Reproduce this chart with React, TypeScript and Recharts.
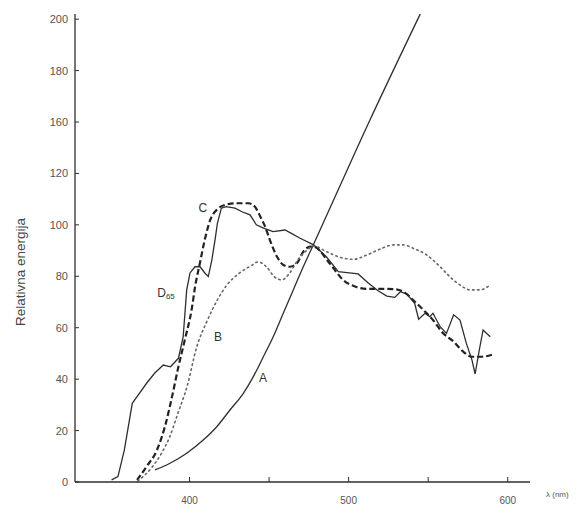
import { LineChart, Line, XAxis, YAxis, ReferenceDot } from "recharts";

// Wavelength (nm) vs relative energy.
const curveA: [number, number][] = [
  [378.3, 4.7], [387.7, 7.3], [398.2, 11.2], [408.6, 16.3], [417.1, 21.5], [425.4, 28],
  [433.8, 34.5], [440.1, 41], [446.4, 48.7], [452.6, 56.5], [458.9, 65.6], [465.2, 74.7],
  [471.5, 83.7], [477.8, 92.2], [513.4, 140.8], [545, 182],
];

const curveD65: [number, number][] = [
  [351, 0.8], [355, 2.1], [359, 12.4], [364, 30.6], [367, 33.2], [373, 38.4],
  [378, 42.3], [383.5, 45.5], [388, 44.8], [393, 48.1], [396, 56.5], [398.2, 74.7],
  [400.3, 81.3], [403.4, 83.7], [406.6, 83.7], [409.7, 81.2], [411.8, 79.9], [414, 86.3],
  [416, 94.1], [417.5, 100.6], [420, 106.5], [423, 107.1], [428.5, 106.5], [433, 105.1],
  [438, 103.9], [442, 100], [446.5, 98.7], [452.5, 97.4], [460, 98], [464, 96.7],
  [469.5, 94.8], [478, 92.2], [486, 87.6], [493.5, 81.8], [499, 81.4], [506, 80.9],
  [512.5, 77.3], [518.5, 74.4], [524, 72.3], [529, 71.8], [532.5, 74], [536.5, 73.1],
  [541.5, 69.5], [544, 63.3], [548, 65.6], [551, 64.3], [553, 65.6], [557.5, 60.4],
  [561.5, 57.8], [566, 65], [570, 63], [574, 53.9], [577.5, 47.5], [579.5, 42],
  [582.5, 52.6], [584.5, 59.1], [589, 56.5],
];

const curveC: [number, number][] = [
  [367, 0.8], [373, 6], [379.5, 12.4], [384.5, 21.5], [389, 33.2], [393, 44.8],
  [397, 55.2], [401.5, 67.7], [403.5, 76], [406.5, 85.1], [409.5, 94], [413, 101.9],
  [417, 105.8], [422, 107.7], [429.5, 108.4], [437, 108.4], [441, 107.1], [444.5, 103.2],
  [447.5, 99.3], [450.5, 94.1], [455, 87.6], [459, 84.4], [463, 83.7], [467.5, 85.1],
  [471.5, 89.6], [476, 91.5], [478, 91.5], [488, 85.1], [496.5, 78.6], [504, 76],
  [511.5, 75.1], [519.5, 75.1], [528, 75], [534.5, 74], [540.5, 70.8], [547, 66.9],
  [553, 63], [559.5, 57.8], [566, 54.6], [572, 50.7], [577.5, 48.7], [583.5, 48.7],
  [591, 49.7],
];

const curveB: [number, number][] = [
  [367.5, 0.4], [376.5, 5.8], [382.5, 11.3], [387.5, 17.5], [392.5, 26.4], [398.5, 37.3],
  [404.5, 52.5], [411, 62.6], [417.5, 70.8], [423.5, 76.6], [431.5, 81.3], [439.5, 84.4],
  [443, 85.6], [448.5, 83.6], [453.5, 79.7], [458, 78.6], [463, 81.3], [468, 86.3],
  [474, 90.2], [478, 91.8], [486, 89.6], [494.5, 87.4], [503, 86.6], [511.5, 88.3],
  [519.5, 90.5], [528, 92.2], [534.5, 92.2], [540.5, 90.9], [549, 88.3], [557.5, 83.7],
  [563.5, 79.9], [570, 76.6], [576.5, 74.7], [582.5, 74.7], [589, 76.6],
];

const yTicks = [0, 20, 40, 60, 80, 100, 120, 140, 160, 180];
const yTickLabels = ["0", "20", "40", "60", "80", "100", "120", "160", "180", "200"];
const xTicks = [400, 450, 500, 550, 600];
const xTickLabels: Record<number, string> = { 400: "400", 500: "500", 600: "600" };

const curveLabels = [
  { x: 408.3, y: 106.5, text: "C" },
  { x: 417.9, y: 56.4, text: "B" },
  { x: 446.2, y: 40.5, text: "A" },
];
const d65Label = { x: 385.2, y: 73.5 };

const toRows = (pts: [number, number][]) => pts.map(([x, y]) => ({ x, y }));

const ink = "#2e2e2e";
const font = "'Liberation Sans', Arial, sans-serif";

function YTick(props: any) {
  const { x, y, index } = props;
  return (
    <g>
      <line x1={x} x2={x + 4} y1={y} y2={y} stroke={ink} strokeWidth={1} />
      <text x={x - 7} y={y} textAnchor="end" dominantBaseline="central"
        fontSize={11} fill="#555" fontFamily={font}>
        {yTickLabels[index]}
      </text>
    </g>
  );
}

function XTick(props: any) {
  const { x, y, payload } = props;
  const label = xTickLabels[payload.value];
  return (
    <g>
      <line x1={x} x2={x} y1={y} y2={y - 5} stroke={ink} strokeWidth={1} />
      {label && (
        <text x={x} y={y + 18} textAnchor="middle" dominantBaseline="central"
          fontSize={10} fill="#555" fontFamily={font}>
          {label}
        </text>
      )}
    </g>
  );
}

export default function App() {
  return (
    <div style={{ position: "absolute", left: 0, top: 0, width: 578, height: 513, background: "#fff" }}>
      <LineChart width={578} height={513} margin={{ top: 14, right: 48, bottom: 0, left: 0 }}>
        <XAxis
          type="number"
          dataKey="x"
          domain={[328, 614]}
          ticks={xTicks}
          tick={<XTick />}
          tickLine={false}
          tickSize={0}
          tickMargin={0}
          height={31}
          axisLine={{ stroke: ink, strokeWidth: 1.3 }}
          label={{
            content: () => (
              <text x={546} y={497} fontSize={8} fill="#555" fontFamily={font}>
                λ (nm)
              </text>
            ),
          }}
        />
        <YAxis
          type="number"
          domain={[0, 182]}
          ticks={yTicks}
          tick={<YTick />}
          tickLine={false}
          tickSize={0}
          tickMargin={0}
          width={75}
          axisLine={{ stroke: ink, strokeWidth: 1.3 }}
          label={{
            content: () => (
              <text x={20} y={272} transform="rotate(-90 20 272)" textAnchor="middle"
                dominantBaseline="central" fontSize={13.5} fill="#444" fontFamily={font}>
                Relativna energija
              </text>
            ),
          }}
        />
        <Line data={toRows(curveA)} dataKey="y" type="monotone" stroke={ink}
          strokeWidth={1.3} dot={false} isAnimationActive={false} />
        <Line data={toRows(curveD65)} dataKey="y" type="linear" stroke={ink}
          strokeWidth={1.3} dot={false} isAnimationActive={false} />
        <Line data={toRows(curveC)} dataKey="y" type="monotone" stroke="#222"
          strokeWidth={2.2} strokeDasharray="6 3" dot={false} isAnimationActive={false} />
        <Line data={toRows(curveB)} dataKey="y" type="monotone" stroke="#666"
          strokeWidth={1.6} strokeDasharray="1.5 3.5" strokeLinecap="round" dot={false}
          isAnimationActive={false} />
        {curveLabels.map((l) => (
          <ReferenceDot key={l.text} x={l.x} y={l.y} r={0}
            shape={(p: any) => (
              <text x={p.cx} y={p.cy} textAnchor="middle" dominantBaseline="central"
                fontSize={12} fill="#333" fontFamily={font}>
                {l.text}
              </text>
            )}
          />
        ))}
        <ReferenceDot x={d65Label.x} y={d65Label.y} r={0}
          shape={(p: any) => (
            <text x={p.cx} y={p.cy} textAnchor="middle" dominantBaseline="central"
              fontSize={12} fill="#333" fontFamily={font}>
              D<tspan fontSize={8} dy={3}>65</tspan>
            </text>
          )}
        />
      </LineChart>
    </div>
  );
}
